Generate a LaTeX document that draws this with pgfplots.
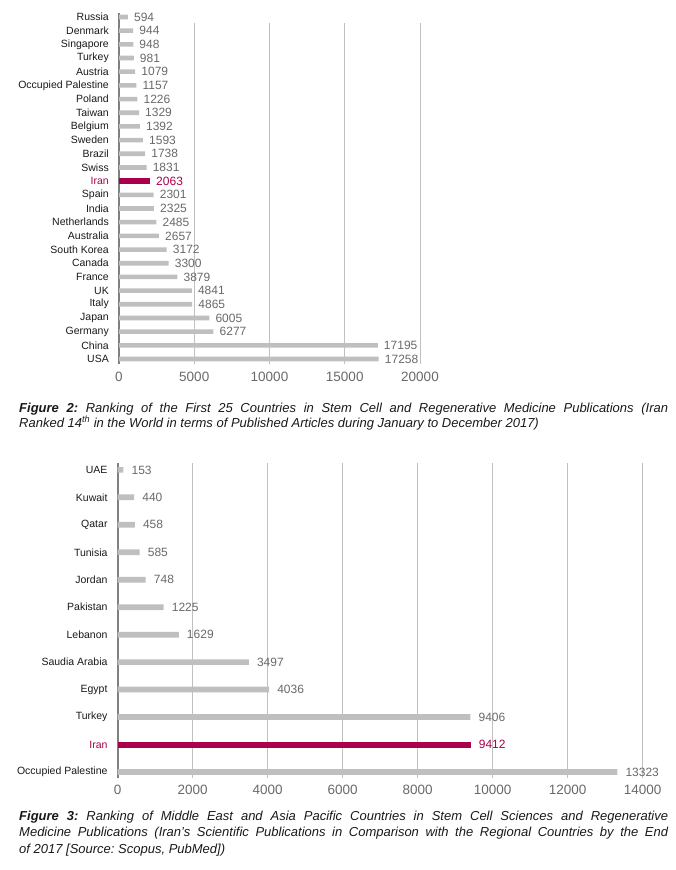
\documentclass[border=0pt]{standalone}
\usepackage{fontspec}
\setmainfont{Liberation Sans}
\usepackage{pgfplots}
\pgfplotsset{compat=1.18}
\frenchspacing
\definecolor{bargrey}{RGB}{191,191,191}
\definecolor{iranred}{RGB}{170,0,75}
\definecolor{valgrey}{RGB}{105,105,105}
\definecolor{axgrey}{RGB}{128,128,128}
\definecolor{gridgrey}{RGB}{192,192,192}
\definecolor{labblack}{RGB}{25,25,25}
\pgfplotsset{
  mybars/.style={
    scale only axis, clip=false,
    xbar, bar shift=0pt,
    axis lines*=left,
    x axis line style={draw=none},
    y axis line style={draw=axgrey, line width=1.8pt},
    major tick length=0pt,
    /pgf/number format/assume math mode=true,
    /pgf/number format/1000 sep={},
    scaled x ticks=false,
    yticklabel style={font=\fontsize{10.5}{12}\selectfont, text=labblack, inner sep=0pt, xshift=-10pt},
    point meta=explicit symbolic,
    nodes near coords,
    nodes near coords style={anchor=west, inner sep=0pt, font=\fontsize{12}{14}\selectfont},
  },
  gridonly/.style={
    scale only axis, axis line style={draw=none}, major tick length=0pt,
    xmajorgrids, grid style={draw=gridgrey, line width=0.9pt},
    xticklabels={}, ytick=\empty, scaled x ticks=false,
  }
}
\begin{document}
\begin{tikzpicture}
\path[use as bounding box] (0pt,0pt) rectangle (676pt,-870pt);
% ---------- Figure 2 ----------
\begin{axis}[gridonly,
  at={(119pt,-364pt)}, anchor=south west,
  width=301pt, height=341pt,
  xmin=0, xmax=20000, ymin=0, ymax=1,
  xtick={0,5000,10000,15000,20000},
]
\end{axis}
\begin{axis}[mybars,
  at={(119pt,-364pt)}, anchor=south west,
  width=301pt, height=351pt,
  xmin=0, xmax=20000, ymin=-0.365, ymax=25.29,
  xtick={0,5000,10000,15000,20000},
  xticklabel style={font=\fontsize{13.5}{15}\selectfont, text=valgrey, anchor=base, yshift=-17.5pt},
  ytick={0,...,25},
  yticklabels={USA,China,Germany,Japan,Italy,UK,France,Canada,South Korea,Australia,Netherlands,India,Spain,\textcolor{iranred}{Iran},Swiss,Brazil,Sweden,Belgium,Taiwan,Poland,Occupied Palestine,Austria,Turkey,Singapore,Denmark,Russia},
  nodes near coords style={xshift=6pt},
]
\addplot[fill=bargrey, draw=none, bar width=4.6pt, every node near coord/.append style={text=valgrey}] coordinates {
 (17258,0) [17258]
 (17195,1) [17195]
 (6277,2) [6277]
 (6005,3) [6005]
 (4865,4) [4865]
 (4841,5) [4841]
 (3879,6) [3879]
 (3300,7) [3300]
 (3172,8) [3172]
 (2657,9) [2657]
 (2485,10) [2485]
 (2325,11) [2325]
 (2301,12) [2301]
 (1831,14) [1831]
 (1738,15) [1738]
 (1593,16) [1593]
 (1392,17) [1392]
 (1329,18) [1329]
 (1226,19) [1226]
 (1157,20) [1157]
 (1079,21) [1079]
 (981,22) [981]
 (948,23) [948]
 (944,24) [944]
 (594,25) [594]
};
\addplot[fill=iranred, draw=none, bar width=5.6pt, every node near coord/.append style={text=iranred}] coordinates {
 (2063,13) [2063]
};
\end{axis}
\node[anchor=north west, text width=649pt, align=justify, inner sep=0pt,
      font=\itshape\fontsize{13}{15}\selectfont, text=labblack] at (19pt,-402.5pt)
 {{\bfseries Figure 2:} Ranking of the First 25 Countries in Stem Cell and Regenerative Medicine Publications (Iran\linebreak Ranked 14\textsuperscript{th} in the World in terms of Published Articles during January to December 2017)};
% ---------- Figure 3 ----------
\begin{axis}[gridonly,
  at={(117.7pt,-778pt)}, anchor=south west,
  width=525pt, height=315pt,
  xmin=0, xmax=14000, ymin=0, ymax=1,
  xtick={0,2000,4000,6000,8000,10000,12000,14000},
]
\end{axis}
\begin{axis}[mybars,
  at={(117.7pt,-778pt)}, anchor=south west,
  width=525pt, height=315pt,
  xmin=0, xmax=14000, ymin=-0.22, ymax=11.25,
  xtick={0,2000,4000,6000,8000,10000,12000,14000},
  xticklabel style={font=\fontsize{13.5}{15}\selectfont, text=valgrey, anchor=base, yshift=-16pt},
  ytick={0,...,11},
  yticklabels={Occupied Palestine,\textcolor{iranred}{Iran},Turkey,Egypt,Saudia Arabia,Lebanon,Pakistan,Jordan,Tunisia,Qatar,Kuwait,UAE},
  nodes near coords style={xshift=8pt},
]
\addplot[fill=bargrey, draw=none, bar width=5.7pt, every node near coord/.append style={text=valgrey}] coordinates {
 (13323,0) [13323]
 (9406,2) [9406]
 (4036,3) [4036]
 (3497,4) [3497]
 (1629,5) [1629]
 (1225,6) [1225]
 (748,7) [748]
 (585,8) [585]
 (458,9) [458]
 (440,10) [440]
 (153,11) [153]
};
\addplot[fill=iranred, draw=none, bar width=6pt, every node near coord/.append style={text=iranred}] coordinates {
 (9412,1) [9412]
};
\end{axis}
\node[anchor=north west, text width=649pt, align=justify, inner sep=0pt,
      font=\itshape\fontsize{13}{16.5}\selectfont, text=labblack] at (19pt,-810.5pt)
 {{\bfseries Figure 3:} Ranking of Middle East and Asia Pacific Countries in Stem Cell Sciences and Regenerative\linebreak Medicine Publications (Iran's Scientific Publications in Comparison with the Regional Countries by the End\linebreak of 2017 [Source: Scopus, PubMed])};
\end{tikzpicture}
\end{document}
